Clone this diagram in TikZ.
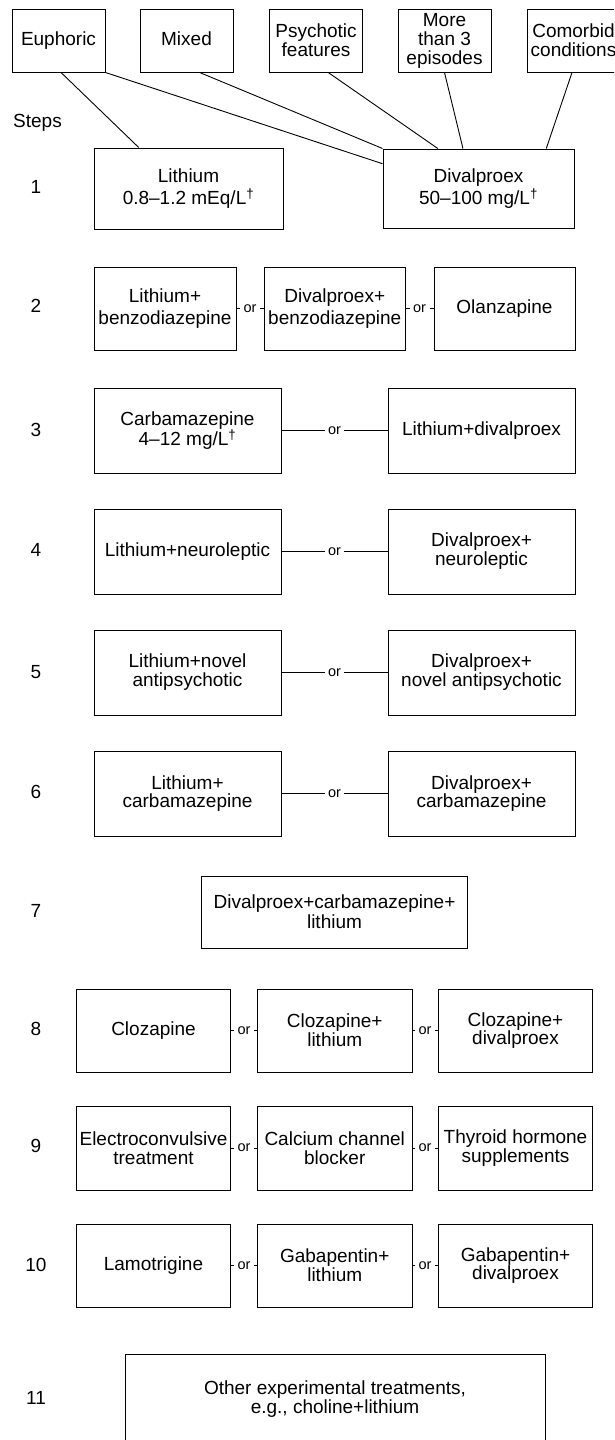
\documentclass[tikz,border=0pt]{standalone}
\usepackage{fontspec}
\setmainfont{Liberation Sans}
\usetikzlibrary{calc}
\tikzset{
  bx/.style 2 args={draw, line width=1pt, align=center, inner sep=1pt,
    minimum width=#1, minimum height=#2, font=\fontsize{19}{19}\selectfont},
  sk/.style={font=\fontsize{19}{#1}\selectfont},
  one/.style={text height=13.6pt, text depth=4pt},
  lbl/.style={font=\fontsize{19}{19}\selectfont, inner sep=0pt},
  orl/.style={fill=white, inner sep=3.5pt, font=\fontsize{14.5}{15}\selectfont},
  con/.style={line width=0.9pt},
}
\newcommand{\dg}{\textsuperscript{\textdagger}}
\begin{document}
\begin{tikzpicture}[x=1pt,y=-1pt]
\useasboundingbox (0,0) rectangle (614,1440);
\clip (0,0) rectangle (614,1440);
% top row
\node[bx={93pt}{63pt}, one] (eu) at (58.5,40.5) {Euphoric};
\node[bx={93pt}{63pt}, one] (mx) at (186.5,40.5) {Mixed};
\node[bx={93pt}{63pt}] (ps) at (316,40.5) {Psychotic\\features};
\node[bx={93pt}{63pt}] (mt) at (444.5,40.5) {More\\than 3\\episodes};
\node[bx={93pt}{63pt}] (co) at (573.5,40.5) {Comorbid\\conditions};
\node[lbl, anchor=west] (steps) at (13,123) {Steps};
% step numbers
\foreach \n/\y in {1/187,2/306,3/430,4/550,5/672,6/792,7/911,8/1029,9/1146,10/1265,11/1398}
  \node[lbl] (n\n) at (36,\y) {\n};
% row 1
\node[bx={189pt}{81pt}, sk=22] (li1) at (188.5,188.5) {Lithium\\0.8--1.2 mEq/L\dg};
\node[bx={191pt}{79pt}, sk=22] (dv1) at (478.5,188.5) {Divalproex\\50--100 mg/L\dg};
% connectors from top
\draw[con] ($(eu.south west)!0.527!(eu.south east)$) -- ($(li1.north west)!0.238!(li1.north east)$);
\draw[con] (eu.south east) -- ($(dv1.north west)!0.19!(dv1.south west)$);
\draw[con] ($(mx.south west)!0.64!(mx.south east)$) -- (dv1.north west);
\draw[con] ($(ps.south west)!0.63!(ps.south east)$) -- ($(dv1.north west)!0.288!(dv1.north east)$);
\draw[con] ($(mt.south west)!0.5!(mt.south east)$) -- ($(dv1.north west)!0.419!(dv1.north east)$);
\draw[con] ($(co.south west)!0.484!(co.south east)$) -- ($(dv1.north west)!0.853!(dv1.north east)$);
% row 2
\node[bx={142pt}{83pt}, sk=22] (r2a) at (165,308.5) {Lithium+\\benzodiazepine};
\node[bx={141pt}{83pt}, sk=22] (r2b) at (334.75,308.5) {Divalproex+\\benzodiazepine};
\node[bx={141pt}{83pt}, one] (r2c) at (504.5,308.5) {Olanzapine};
\draw[con] (r2a.east) -- node[orl]{or} (r2b.west);
\draw[con] (r2b.east) -- node[orl]{or} (r2c.west);
% row 3
\node[bx={187pt}{85pt}, sk=20] (r3a) at (187.5,430.5) {Carbamazepine\\4--12 mg/L\dg};
\node[bx={187pt}{85pt}, one] (r3b) at (481.5,430.5) {Lithium+divalproex};
\draw[con] (r3a.east) -- node[orl]{or} (r3b.west);
% row 4
\node[bx={187pt}{85pt}, one] (r4a) at (187.5,551.5) {Lithium+neuroleptic};
\node[bx={187pt}{85pt}] (r4b) at (481.5,551.5) {Divalproex+\\neuroleptic};
\draw[con] (r4a.east) -- node[orl]{or} (r4b.west);
% row 5
\node[bx={187pt}{85pt}] (r5a) at (187.5,672.5) {Lithium+novel\\antipsychotic};
\node[bx={187pt}{85pt}] (r5b) at (481.5,672.5) {Divalproex+\\novel antipsychotic};
\draw[con] (r5a.east) -- node[orl]{or} (r5b.west);
% row 6
\node[bx={187pt}{85pt}, sk=18] (r6a) at (187.5,793.5) {Lithium+\\carbamazepine};
\node[bx={187pt}{85pt}, sk=18] (r6b) at (481.5,793.5) {Divalproex+\\carbamazepine};
\draw[con] (r6a.east) -- node[orl]{or} (r6b.west);
% row 7
\node[bx={266pt}{72pt}, sk=20] (r7) at (334.5,912) {Divalproex+carbamazepine+\\lithium};
% row 8
\node[bx={154.5pt}{83pt}, one] (r8a) at (153.5,1030.5) {Clozapine};
\node[bx={154.5pt}{83pt}, sk=17] (r8b) at (334.75,1030.5) {Clozapine+\\lithium};
\node[bx={154.5pt}{83pt}, sk=17] (r8c) at (515.5,1030.5) {Clozapine+\\divalproex};
\draw[con] (r8a.east) -- node[orl]{or} (r8b.west);
\draw[con] (r8b.east) -- node[orl]{or} (r8c.west);
% row 9
\node[bx={154.5pt}{84pt}] (r9a) at (153.5,1148) {Electroconvulsive\\treatment};
\node[bx={154.5pt}{84pt}] (r9b) at (334.75,1148) {Calcium channel\\blocker};
\node[bx={154.5pt}{84pt}] (r9c) at (515.5,1148) {Thyroid hormone\\supplements};
\draw[con] (r9a.east) -- node[orl]{or} (r9b.west);
\draw[con] (r9b.east) -- node[orl]{or} (r9c.west);
% row 10
\node[bx={154.5pt}{83pt}, one] (r10a) at (153.5,1265.5) {Lamotrigine};
\node[bx={154.5pt}{83pt}, sk=17] (r10b) at (334.75,1265.5) {Gabapentin+\\lithium};
\node[bx={154.5pt}{83pt}, sk=17] (r10c) at (515.5,1265.5) {Gabapentin+\\divalproex};
\draw[con] (r10a.east) -- node[orl]{or} (r10b.west);
\draw[con] (r10b.east) -- node[orl]{or} (r10c.west);
% row 11
\node[bx={420pt}{90pt}] (r11) at (335,1399) {Other experimental treatments,\\e.g., choline+lithium};
\end{tikzpicture}
\end{document}
